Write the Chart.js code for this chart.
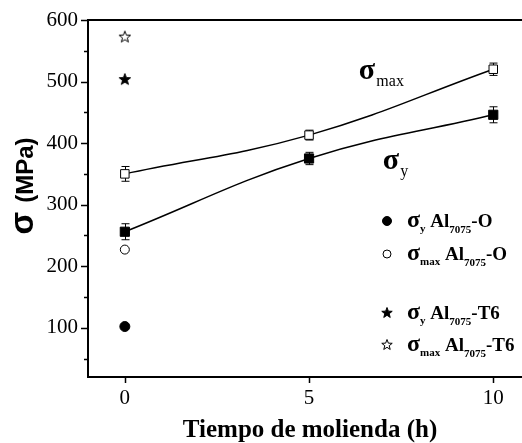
<!DOCTYPE html>
<html>
<head>
<meta charset="utf-8">
<script src="https://cdn.jsdelivr.net/npm/chart.js@4"></script>
<style>
  html, body { margin: 0; padding: 0; background: #fff; }
  #wrap { width: 522px; height: 443px; }
</style>
</head>
<body>
<div id="wrap"><canvas id="grafico"></canvas></div>
<script>
// datos
const tiempo = [0, 5, 10];
const sigmaMax = [350, 413, 520];
const sigmaMaxErr = [12, 8, 10];
const sigmaY = [256, 375, 446];
const sigmaYErr = [13, 10, 13];

const tiempoRef = [0];
const sigmaYO = [102];
const sigmaMaxO = [227];
const sigmaYT6 = [504];
const sigmaMaxT6 = [573];

const xTicks = [0, 5, 10];
const yTicks = [100, 200, 300, 400, 500, 600];

const SERIF = "'Liberation Serif', 'Times New Roman', serif";
const SANS = "'Liberation Sans', Arial, sans-serif";

// estrella de 5 puntas como imagen para pointStyle
function estrella(ctx, cx, cy, R, relleno) {
  const r = R * 0.42;
  ctx.beginPath();
  for (let i = 0; i < 10; i++) {
    const a = -Math.PI / 2 + i * Math.PI / 5;
    const rr = i % 2 ? r : R;
    const px = cx + rr * Math.cos(a), py = cy + rr * Math.sin(a);
    i ? ctx.lineTo(px, py) : ctx.moveTo(px, py);
  }
  ctx.closePath();
  ctx.lineWidth = 1;
  ctx.strokeStyle = '#000';
  ctx.fillStyle = relleno ? '#000' : '#fff';
  ctx.fill();
  ctx.stroke();
}
function imgEstrella(relleno) {
  const c = document.createElement('canvas');
  c.width = 16; c.height = 16;
  estrella(c.getContext('2d'), 8, 8.5, 6, relleno);
  return c;
}
const starLleno = imgEstrella(true);
const starVacio = imgEstrella(false);

const pts = (xs, ys) => xs.map((x, i) => ({ x: x, y: ys[i] }));

// barras de error, ejes extra, textos y leyenda
const extras = {
  id: 'extras',
  beforeDatasetsDraw(chart) {
    const { ctx, scales: { x, y } } = chart;
    ctx.save();
    ctx.strokeStyle = '#000';
    ctx.lineWidth = 1;
    [[sigmaMax, sigmaMaxErr], [sigmaY, sigmaYErr]].forEach(([vals, errs]) => {
      tiempo.forEach((t, i) => {
        const px = Math.round(x.getPixelForValue(t)) + 0.5;
        const y1 = y.getPixelForValue(vals[i] + errs[i]);
        const y2 = y.getPixelForValue(vals[i] - errs[i]);
        ctx.beginPath();
        ctx.moveTo(px, y1); ctx.lineTo(px, y2);
        ctx.moveTo(px - 4, y1); ctx.lineTo(px + 4, y1);
        ctx.moveTo(px - 4, y2); ctx.lineTo(px + 4, y2);
        ctx.stroke();
      });
    });
    ctx.restore();
  },
  afterDraw(chart) {
    const { ctx, chartArea: a, scales: { x, y } } = chart;
    ctx.save();
    ctx.strokeStyle = '#000';
    // borde superior
    ctx.lineWidth = 2;
    ctx.beginPath();
    ctx.moveTo(a.left - 1, a.top); ctx.lineTo(a.right, a.top);
    ctx.stroke();
    // marcas de los ejes
    ctx.lineWidth = 1.5;
    ctx.beginPath();
    yTicks.forEach(v => {
      const py = Math.round(y.getPixelForValue(v)) + 0.5;
      ctx.moveTo(a.left - 7, py); ctx.lineTo(a.left, py);
    });
    yTicks.forEach(v => {
      const py = Math.round(y.getPixelForValue(v - 50)) + 0.5;
      ctx.moveTo(a.left - 4, py); ctx.lineTo(a.left, py);
    });
    xTicks.forEach(v => {
      const px = Math.round(x.getPixelForValue(v)) + 0.5;
      ctx.moveTo(px, a.bottom); ctx.lineTo(px, a.bottom + 6);
    });
    ctx.stroke();

    ctx.fillStyle = '#000';
    // titulo eje y (sigma mas grande)
    ctx.save();
    ctx.translate(33, 186);
    ctx.rotate(-Math.PI / 2);
    ctx.textBaseline = 'alphabetic';
    ctx.font = 'bold 33px ' + SANS;
    const wS = ctx.measureText('σ ').width;
    ctx.font = 'bold 24px ' + SANS;
    const wM = ctx.measureText('(MPa)').width;
    let sx = -(wS + wM) / 2;
    ctx.font = 'bold 33px ' + SANS;
    ctx.fillText('σ ', sx, 0);
    ctx.font = 'bold 24px ' + SANS;
    ctx.fillText('(MPa)', sx + wS, 0);
    ctx.restore();
    // titulo eje x
    ctx.textAlign = 'center';
    ctx.textBaseline = 'alphabetic';
    ctx.font = 'bold 25px ' + SERIF;
    ctx.fillText('Tiempo de molienda (h)', 310, 437);

    // texto con subindices
    function rico(partes, x0, base) {
      ctx.textAlign = 'left';
      ctx.textBaseline = 'alphabetic';
      let cx = x0;
      partes.forEach(([txt, font, dy]) => {
        ctx.font = font;
        ctx.fillText(txt, cx, base + dy);
        cx += ctx.measureText(txt).width;
      });
    }
    // etiquetas de curvas
    rico([['σ', 'bold 30px ' + SERIF, 0], [' ', '5px ' + SERIF, 0], ['max', '16px ' + SERIF, 7]],
      x.getPixelForValue(6.35), y.getPixelForValue(504));
    rico([['σ', 'bold 30px ' + SERIF, 0], [' ', '5px ' + SERIF, 0], ['y', '16px ' + SERIF, 7]],
      x.getPixelForValue(7.0), y.getPixelForValue(358));

    // leyenda
    const sig = 'bold 24px ' + SERIF, big = 'bold 19px ' + SERIF, sub = 'bold 11px ' + SERIF;
    const filas = [
      { yc: 221, tipo: 'circ', relleno: true, s: 'y', fin: '-O' },
      { yc: 254, tipo: 'circ', relleno: false, s: 'max', fin: '-O' },
      { yc: 313, tipo: 'star', relleno: true, s: 'y', fin: '-T6' },
      { yc: 345, tipo: 'star', relleno: false, s: 'max', fin: '-T6' }
    ];
    filas.forEach(f => {
      const mx = 387;
      if (f.tipo === 'circ') {
        ctx.beginPath();
        ctx.arc(mx, f.yc, f.relleno ? 4.5 : 4, 0, 2 * Math.PI);
        ctx.fillStyle = f.relleno ? '#000' : '#fff';
        ctx.fill();
        ctx.lineWidth = 1;
        ctx.stroke();
      } else {
        estrella(ctx, mx, f.yc, 5.5, f.relleno);
      }
      ctx.fillStyle = '#000';
      rico([['σ', sig, 0], [f.s, sub, 5], [' Al', big, 0], ['7075', sub, 6], [f.fin, big, 0]],
        407, f.yc + 6);
    });
    ctx.restore();
  }
};

new Chart(document.getElementById('grafico'), {
  type: 'scatter',
  data: {
    datasets: [
      {
        label: 'σmax', data: pts(tiempo, sigmaMax), showLine: true, tension: 0.4,
        borderColor: '#000', borderWidth: 1.5,
        pointStyle: 'rect', pointRadius: 6, pointBackgroundColor: '#fff',
        pointBorderColor: '#000', pointBorderWidth: 1
      },
      {
        label: 'σy', data: pts(tiempo, sigmaY), showLine: true, tension: 0.4,
        borderColor: '#000', borderWidth: 1.5,
        pointStyle: 'rect', pointRadius: 6.5, pointBackgroundColor: '#000',
        pointBorderColor: '#000', pointBorderWidth: 1
      },
      {
        label: 'σy Al7075-O', data: pts(tiempoRef, sigmaYO),
        pointStyle: 'circle', pointRadius: 5, pointBackgroundColor: '#000', pointBorderColor: '#000'
      },
      {
        label: 'σmax Al7075-O', data: pts(tiempoRef, sigmaMaxO),
        pointStyle: 'circle', pointRadius: 4.5, pointBackgroundColor: '#fff',
        pointBorderColor: '#000', pointBorderWidth: 1
      },
      { label: 'σy Al7075-T6', data: pts(tiempoRef, sigmaYT6), pointStyle: starLleno },
      { label: 'σmax Al7075-T6', data: pts(tiempoRef, sigmaMaxT6), pointStyle: starVacio }
    ]
  },
  options: {
    responsive: true,
    maintainAspectRatio: false,
    animation: false,
    layout: { autoPadding: false, padding: { top: 20, left: 0, right: 0, bottom: 0 } },
    plugins: { legend: { display: false }, tooltip: { enabled: false } },
    scales: {
      x: {
        type: 'linear', min: -1, max: 10.78,
        afterBuildTicks: s => { s.ticks = xTicks.map(v => ({ value: v })); },
        afterFit: s => { s.height = 66; },
        ticks: { color: '#000', font: { family: SERIF, size: 21 }, padding: 3, maxRotation: 0 },
        grid: { drawOnChartArea: false, tickLength: 6, color: 'rgba(0,0,0,0)' },
        border: { color: '#000', width: 2 }
      },
      y: {
        min: 20, max: 600,
        afterBuildTicks: s => { s.ticks = yTicks.map(v => ({ value: v })); },
        afterFit: s => { s.width = 88; },
        ticks: { color: '#000', font: { family: SERIF, size: 21 }, padding: 3 },
        grid: { drawOnChartArea: false, tickLength: 7, color: 'rgba(0,0,0,0)' },
        border: { color: '#000', width: 2 }
      }
    }
  },
  plugins: [extras]
});
</script>
</body>
</html>
